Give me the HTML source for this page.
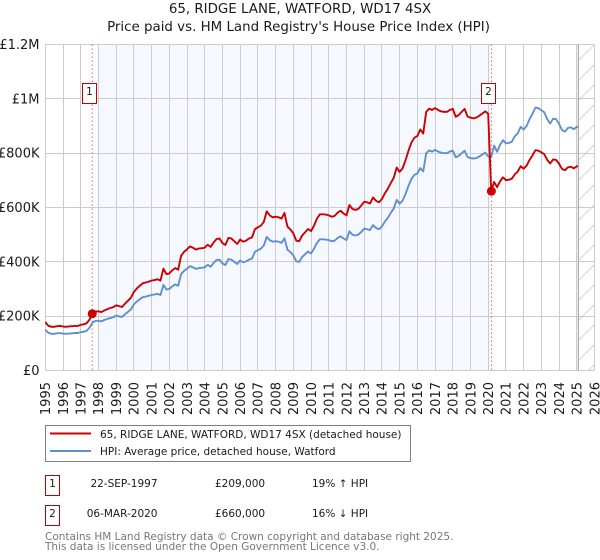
<!DOCTYPE html>
<html lang="en">
<head>
<meta charset="utf-8">
<title>65, RIDGE LANE, WATFORD, WD17 4SX</title>
<style>
html,body{margin:0;padding:0;background:#fff;width:600px;height:560px;overflow:hidden}
svg{display:block;font-family:"DejaVu Sans","Liberation Sans",sans-serif}
</style>
</head>
<body>
<svg id="chart" xmlns="http://www.w3.org/2000/svg" width="600" height="560" viewBox="0 0 600 560">
  <defs>
    <pattern id="hatch" patternUnits="userSpaceOnUse" width="20" height="20" patternTransform="translate(579 0)">
      <path d="M-1 21L21 -1" stroke="#d4d4d4" stroke-width="1" fill="none"/>
    </pattern>
    <clipPath id="data-clip"><rect x="45" y="44" width="533" height="327"/></clipPath>
  </defs>
  <rect width="600" height="560" fill="#fff"/>
  <text x="300" y="13" text-anchor="middle" font-size="13.4" fill="#1a1a1a">65, RIDGE LANE, WATFORD, WD17 4SX</text>
  <text x="298.5" y="31" text-anchor="middle" font-size="13.4" fill="#1a1a1a">Price paid vs. HM Land Registry's House Price Index (HPI)</text>
  <g id="plot"></g>

  <g>
    <rect x="45.5" y="425.5" width="365" height="36" fill="#fff" stroke="#808080" stroke-width="1"/>
    <line x1="50" x2="91" y1="433.5" y2="433.5" stroke="#cc0000" stroke-width="2"/>
    <text x="100" y="438" font-size="10.5" fill="#1a1a1a">65, RIDGE LANE, WATFORD, WD17 4SX (detached house)</text>
    <line x1="50" x2="91" y1="451" y2="451" stroke="#5f8fd0" stroke-width="2"/>
    <text x="100" y="455" font-size="10.5" fill="#1a1a1a">HPI: Average price, detached house, Watford</text>
  </g>

  <g font-size="10.5" fill="#1a1a1a">
    <rect x="45.5" y="475.5" width="14" height="20" fill="#fff" stroke="#c00000"/>
    <text x="52.5" y="487" text-anchor="middle">1</text>
    <text x="157.5" y="487" text-anchor="end">22-SEP-1997</text>
    <text x="215" y="487">£209,000</text>
    <text x="312" y="487">19% ↑ HPI</text>
    <rect x="45.5" y="505.5" width="14" height="20" fill="#fff" stroke="#c00000"/>
    <text x="52.5" y="517" text-anchor="middle">2</text>
    <text x="157.5" y="517" text-anchor="end">06-MAR-2020</text>
    <text x="215" y="517">£660,000</text>
    <text x="312" y="517">16% ↓ HPI</text>
  </g>

  <text x="45" y="540" font-size="10.5" fill="#777">Contains HM Land Registry data © Crown copyright and database right 2025.</text>
  <text x="45" y="550" font-size="10.5" fill="#777">This data is licensed under the Open Government Licence v3.0.</text>
</svg>
<script>
// Values in thousands of pounds, one reading every two months from January 1995.
var startYear = 1995;
var readingsPerYear = 6;
var priceSeries = [
  178,165,161,161,163,164,
  162,161,162,163,164,164,
  168,170,174,188,209,217,
  218,215,221,226,230,233,
  240,237,234,246,257,268,
  289,302,312,321,324,327,
  331,333,336,331,375,355,
  357,369,377,371,422,437,
  446,457,452,445,449,450,
  452,463,455,471,484,486,
  469,462,488,486,476,466,
  482,474,478,486,490,520,
  527,533,547,586,571,564,
  566,564,559,580,530,519,
  505,478,476,497,509,521,
  513,533,559,575,575,574,
  571,566,569,581,588,578,
  571,609,595,591,595,607,
  621,619,615,637,625,619,
  631,652,669,690,709,747,
  731,744,774,809,839,857,
  863,887,872,952,964,959,
  966,959,954,952,952,959,
  963,934,940,952,963,935,
  931,928,931,938,946,954,
  945,660,694,675,696,711,
  701,702,706,722,732,752,
  743,754,775,792,811,809,
  803,796,775,762,777,775,
  761,742,737,748,750,744,
  752,750
];
var hpiSeries = [
  150,139,135,135,137,138,
  136,135,136,137,138,138,
  141,143,146,158,176,183,
  183,181,186,190,193,196,
  202,199,197,207,216,225,
  243,254,262,270,272,275,
  278,280,282,278,315,298,
  300,310,317,312,355,367,
  375,384,380,374,377,378,
  380,389,382,396,407,408,
  394,388,410,408,400,392,
  405,398,402,408,412,437,
  443,448,460,492,480,474,
  476,474,470,487,445,436,
  424,402,400,418,428,438,
  431,448,470,483,483,482,
  480,476,478,488,494,486,
  480,512,500,497,500,510,
  522,520,517,535,525,520,
  530,548,562,580,596,628,
  614,625,650,680,705,720,
  725,745,733,800,810,806,
  812,806,802,800,800,806,
  809,785,790,800,809,786,
  782,780,782,788,795,802,
  788,785,828,805,830,848,
  836,838,842,862,873,897,
  887,900,925,945,968,965,
  958,950,925,909,927,925,
  908,885,879,893,895,888,
  897,895
];
var yTickValues = [0, 200, 400, 600, 800, 1000, 1200];
var yTickLabels = ["£0", "£200K", "£400K", "£600K", "£800K", "£1M", "£1.2M"];
var xTickYears = [1995,1996,1997,1998,1999,2000,2001,2002,2003,2004,2005,2006,2007,2008,2009,2010,2011,2012,2013,2014,2015,2016,2017,2018,2019,2020,2021,2022,2023,2024,2025,2026];
var saleYears = [1997.65, 2020.18];
var salePrices = [209, 660];
var saleNumbers = ["1", "2"];
var shadedYears = [1998, 2020];

var NS = 'http://www.w3.org/2000/svg';
var plot = document.getElementById('plot');
var LEFT = 45.3, RIGHT = 594.5, TOP = 44.5, BOTTOM = 370.5;
var DATA_END_YEAR = 2025.09;
function xScale(year) { return LEFT + (year - 1995) * (RIGHT - LEFT) / 31; }
function yScale(value) { return BOTTOM - value * (BOTTOM - TOP) / 1200; }
function snap(v) { return Math.floor(v) + 0.5; }
function make(tag, attrs, parent) {
  var el = document.createElementNS(NS, tag);
  for (var k in attrs) el.setAttribute(k, attrs[k]);
  (parent || plot).appendChild(el);
  return el;
}
function linePath(values) {
  return values.map(function (v, i) {
    var year = startYear + i / readingsPerYear;
    return (i ? 'L' : 'M') + xScale(year).toFixed(2) + ' ' + yScale(v).toFixed(2);
  }).join('');
}

var shade = make('rect', {x: xScale(shadedYears[0]), y: TOP, width: xScale(shadedYears[1]) - xScale(shadedYears[0]) + 0.5, height: BOTTOM - TOP, fill: '#f5f8ff'});



var hatch = make('rect', {x: xScale(DATA_END_YEAR), y: TOP, width: RIGHT - xScale(DATA_END_YEAR), height: BOTTOM - TOP, fill: 'url(#hatch)'});



xTickYears.forEach(function (year) {
  var x = snap(xScale(year));
  var grid = make('line', {x1: x, x2: x, y1: TOP, y2: BOTTOM, stroke: '#cccccc', 'stroke-width': 1});
  
  
  var label = make('text', {x: xScale(year), y: 382, dy: '0.37em', 'text-anchor': 'end', 'font-size': 13, fill: '#1a1a1a', transform: 'rotate(-90 ' + xScale(year) + ' 382)'});
  label.textContent = String(year);
  
  
});

yTickValues.forEach(function (value, i) {
  var y = snap(yScale(value));
  var grid = make('line', {x1: LEFT, x2: RIGHT, y1: y, y2: y, stroke: '#cccccc', 'stroke-width': 1});
  
  
  var label = make('text', {x: 39.5, y: yScale(value) + 4.5, 'text-anchor': 'end', 'font-size': 13, fill: '#1a1a1a'});
  label.textContent = yTickLabels[i];
  
  
});

var endLine = make('line', {x1: xScale(DATA_END_YEAR), x2: xScale(DATA_END_YEAR), y1: TOP, y2: BOTTOM, stroke: '#a8a8a8', 'stroke-width': 1.2});



saleYears.forEach(function (year) {
  var x = xScale(year);
  var dash = make('line', {x1: x, x2: x, y1: TOP, y2: BOTTOM, stroke: '#ff5a6e', 'stroke-width': 1, 'stroke-dasharray': '1.5 2.5'});
  
  
});

var hpiLine = make('path', {d: linePath(hpiSeries), fill: 'none', stroke: '#5f8fd0', 'stroke-width': 1.9, 'stroke-linejoin': 'round', 'clip-path': 'url(#data-clip)'});



var priceLine = make('path', {d: linePath(priceSeries), fill: 'none', stroke: '#cc0000', 'stroke-width': 1.9, 'stroke-linejoin': 'round', 'clip-path': 'url(#data-clip)'});



saleYears.forEach(function (year, i) {
  var x = xScale(year);
  var dot = make('circle', {cx: x, cy: yScale(salePrices[i]), r: 4.5, fill: '#cc0000'});
  
  
  var box = make('rect', {x: Math.round(x) - 9.5, y: 83.5, width: 14, height: 20, fill: '#fff', stroke: '#c00000', 'stroke-width': 1});
  
  
  var num = make('text', {x: Math.round(x) - 2.5, y: 95, 'text-anchor': 'middle', 'font-size': 10.5, fill: '#1a1a1a'});
  num.textContent = saleNumbers[i];
  
  
});
</script>
</body>
</html>
